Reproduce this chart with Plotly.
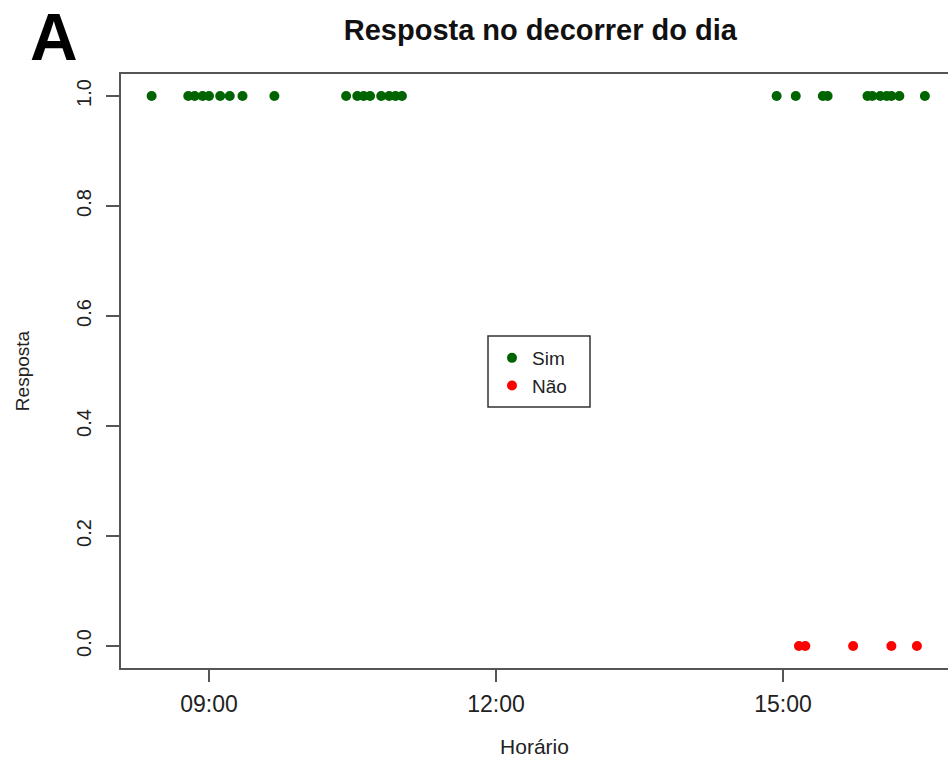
import plotly.graph_objects as go
from datetime import datetime

DAY = "2021-03-15"

# Times (HH:MM) of each answer, split by response
sim_times = ["08:24", "08:47", "08:51", "08:56", "09:00", "09:07", "09:13", "09:21",
             "09:41", "10:26", "10:33", "10:37", "10:41", "10:48", "10:53", "10:57",
             "11:01", "14:56", "15:08", "15:25", "15:28", "15:53", "15:56", "16:01",
             "16:05", "16:08", "16:13", "16:29"]
sim_values = [1, 1, 1, 1, 1, 1, 1, 1, 1, 1, 1, 1, 1, 1, 1, 1,
              1, 1, 1, 1, 1, 1, 1, 1, 1, 1, 1, 1]

nao_times = ["15:10", "15:14", "15:44", "16:08", "16:24"]
nao_values = [0, 0, 0, 0, 0]

x_ticks = ["09:00", "12:00", "15:00"]
y_ticks = [0.0, 0.2, 0.4, 0.6, 0.8, 1.0]
x_window = ["08:04:48", "16:43:30"]


def stamp(t):
    fmt = "%Y-%m-%d %H:%M:%S" if t.count(":") == 2 else "%Y-%m-%d %H:%M"
    return datetime.strptime(f"{DAY} {t}", fmt)


FONT = "Liberation Sans, Arial, Helvetica, sans-serif"
AXIS_COL = "#555555"
TEXT_COL = "#222222"

fig = go.Figure()
fig.add_trace(go.Scatter(
    x=[stamp(t) for t in sim_times], y=sim_values, mode="markers", name="Sim",
    marker=dict(color="#006400", size=10),
))
fig.add_trace(go.Scatter(
    x=[stamp(t) for t in nao_times], y=nao_values, mode="markers", name="Não",
    marker=dict(color="#FF0000", size=10),
))

# plot area spans 121..948 px horizontally, 74..668 px vertically
plot_l, plot_r, plot_t, plot_b = 121, 948, 74, 668


def px_x(p):
    return (p - plot_l) / (plot_r - plot_l)


def px_y(p):
    return (plot_b - p) / (plot_b - plot_t)


fig.update_layout(
    width=948, height=758,
    margin=dict(l=plot_l, r=948 - plot_r, t=plot_t, b=758 - plot_b),
    paper_bgcolor="white", plot_bgcolor="white",
    font=dict(family=FONT, color=TEXT_COL, size=18),
    title=dict(text="<b>Resposta no decorrer do dia</b>", x=0.57, xanchor="center",
               y=0.96, yanchor="middle", font=dict(size=29, color="#111111")),
    showlegend=True,
    legend=dict(x=px_x(492), xanchor="left", y=px_y(339), yanchor="top",
                borderwidth=0, bgcolor="rgba(0,0,0,0)",
                font=dict(size=19, color=TEXT_COL), itemwidth=30, tracegroupgap=0),
    shapes=[dict(type="rect", xref="paper", yref="paper",
                 x0=px_x(488), x1=px_x(590), y0=px_y(407), y1=px_y(336),
                 line=dict(color="#333333", width=1.5), fillcolor="white", layer="below")],
    xaxis=dict(
        type="date", range=[stamp(x_window[0]), stamp(x_window[1])],
        tickvals=[stamp(t) for t in x_ticks], ticktext=x_ticks,
        ticks="outside", ticklen=12, tickwidth=2, tickcolor=AXIS_COL,
        ticklabelstandoff=2,
        showline=True, linecolor=AXIS_COL, linewidth=2, mirror=True,
        showgrid=False, zeroline=False, automargin=False,
        tickfont=dict(size=23),
        title=dict(text="Horário", font=dict(size=21), standoff=24),
    ),
    yaxis=dict(
        range=[-0.04, 1.04], tickvals=y_ticks, tickformat=".1f",
        ticks="outside", ticklen=13, tickwidth=2, tickcolor=AXIS_COL,
        ticklabelstandoff=7,
        showline=True, linecolor=AXIS_COL, linewidth=2, mirror=False,
        showgrid=False, zeroline=False, tickangle=-90, automargin=False,
        tickfont=dict(size=20),
        title=dict(text="Resposta", font=dict(size=19), standoff=38),
    ),
    annotations=[dict(
        text="<b>A</b>", xref="paper", yref="paper", x=px_x(28), y=px_y(37),
        xanchor="left", yanchor="middle", showarrow=False,
        font=dict(size=66, color="black", family=FONT),
    )],
)

fig.write_html("out.html")
